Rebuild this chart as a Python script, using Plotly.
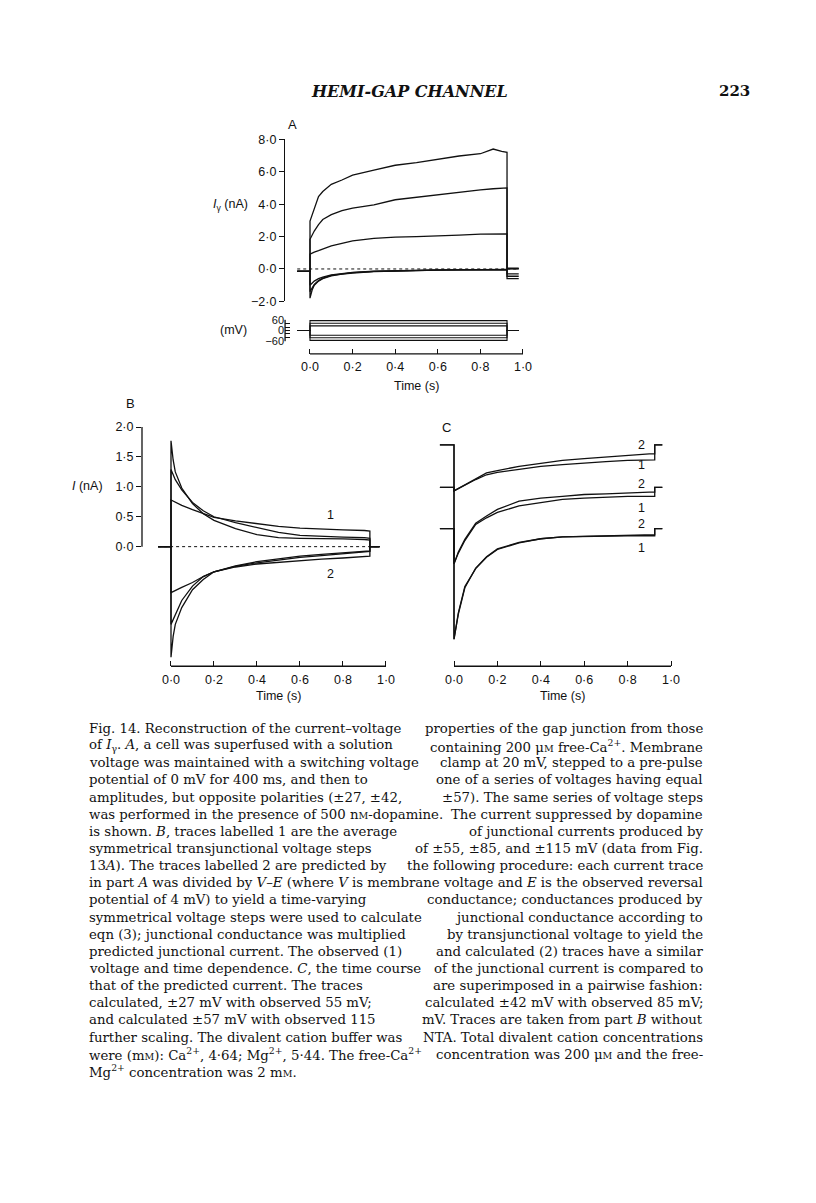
import re
import plotly.graph_objects as go

# ---------------- data ----------------
# Panel A: dopamine-sensitive current I_gamma (nA) vs time (s)
A_T = [0, 0.01, 0.02, 0.04, 0.06, 0.1, 0.15, 0.2, 0.3, 0.4, 0.5, 0.6, 0.7, 0.8, 0.86, 0.9, 0.925]
A_POS_1 = [2.95, 3.3, 3.76, 4.47, 4.78, 5.22, 5.49, 5.79, 6.1, 6.4, 6.56, 6.77, 6.97, 7.11, 7.4, 7.25, 7.2]
A_POS_2 = [1.83, 2.1, 2.34, 2.74, 3.05, 3.35, 3.6, 3.76, 3.96, 4.27, 4.43, 4.57, 4.73, 4.88, 4.95, 4.98, 5.0]
A_POS_3 = [0.91, 0.98, 1.04, 1.13, 1.22, 1.42, 1.58, 1.73, 1.89, 1.97, 2.0, 2.03, 2.09, 2.15, 2.16, 2.13, 2.17]
A_NEG_1 = [-1.8, -1.3, -1.0, -0.75, -0.6, -0.42, -0.32, -0.25, -0.16, -0.12, -0.09, -0.07, -0.06, -0.05, -0.05, -0.04, -0.04]
A_NEG_2 = [-1.4, -1.15, -0.95, -0.72, -0.57, -0.4, -0.3, -0.23, -0.15, -0.11, -0.08, -0.07, -0.06, -0.05, -0.05, -0.04, -0.04]
A_NEG_3 = [-1.0, -0.85, -0.75, -0.6, -0.5, -0.37, -0.28, -0.21, -0.14, -0.1, -0.08, -0.06, -0.05, -0.04, -0.04, -0.03, -0.03]
A_PRE_T = [-0.06, 0.0]
A_POST_T = [0.925, 0.98]
A_BASE = -0.15
A_TAILS = [0.05, 0.02, 0.0, -0.3, -0.45, -0.6]
A_STEPS_MV = [57, 42, 27, -27, -42, -57]

# Panel B: observed (1) and calculated (2) junctional currents (nA)
B_T = [0, 0.01, 0.02, 0.05, 0.1, 0.15, 0.2, 0.3, 0.4, 0.5, 0.6, 0.7, 0.8, 0.9, 0.925]
B_OBS_1 = [1.77, 1.45, 1.25, 0.98, 0.72, 0.55, 0.44, 0.3, 0.2, 0.15, 0.14, 0.14, 0.13, 0.12, 0.11]
B_OBS_2 = [1.29, 1.2, 1.12, 0.95, 0.74, 0.6, 0.5, 0.4, 0.32, 0.24, 0.19, 0.17, 0.16, 0.15, 0.14]
B_OBS_3 = [0.78, 0.76, 0.74, 0.69, 0.62, 0.55, 0.49, 0.43, 0.38, 0.34, 0.31, 0.29, 0.28, 0.27, 0.26]
B_CALC_1 = [-1.85, -1.5, -1.3, -1.02, -0.72, -0.55, -0.42, -0.32, -0.25, -0.2, -0.16, -0.13, -0.1, -0.08, -0.07]
B_CALC_2 = [-1.3, -1.22, -1.12, -0.9, -0.66, -0.5, -0.42, -0.33, -0.27, -0.22, -0.18, -0.15, -0.12, -0.09, -0.08]
B_CALC_3 = [-0.77, -0.75, -0.73, -0.68, -0.6, -0.5, -0.42, -0.34, -0.29, -0.26, -0.23, -0.21, -0.19, -0.17, -0.16]
B_PRE_T = [-0.06, 0.0]
B_POST_T = [0.925, 0.97]

# Panel C: pairs of observed (1) / calculated (2) traces, each on its own baseline (nA)
C_T = [0, 0.02, 0.05, 0.1, 0.15, 0.2, 0.3, 0.4, 0.5, 0.6, 0.7, 0.8, 0.9, 0.925]
C_OFFSETS = [0.0, -0.71, -1.40]
C_OBS = [
    [-0.77, -0.73, -0.67, -0.58, -0.50, -0.46, -0.41, -0.36, -0.33, -0.30, -0.28, -0.26, -0.25, -0.25],
    [-1.28, -1.10, -0.89, -0.62, -0.51, -0.42, -0.31, -0.26, -0.20, -0.18, -0.16, -0.15, -0.15, -0.15],
    [-1.85, -1.41, -0.97, -0.67, -0.48, -0.35, -0.24, -0.17, -0.14, -0.13, -0.12, -0.12, -0.12, -0.12],
]
C_CALC = [
    [-0.77, -0.73, -0.67, -0.56, -0.47, -0.43, -0.36, -0.31, -0.26, -0.23, -0.20, -0.17, -0.15, -0.15],
    [-1.28, -1.08, -0.87, -0.60, -0.48, -0.37, -0.23, -0.18, -0.15, -0.12, -0.11, -0.09, -0.08, -0.08],
    [-1.85, -1.43, -0.99, -0.66, -0.47, -0.34, -0.23, -0.17, -0.14, -0.13, -0.12, -0.11, -0.10, -0.10],
]
C_PRE_T = [-0.065, 0.0]
C_POST_T = [0.925, 0.96]

TIME_TICKS = [0, 0.2, 0.4, 0.6, 0.8, 1.0]
TIME_LABELS = ["0·0", "0·2", "0·4", "0·6", "0·8", "1·0"]
A_I_TICKS = [-2, 0, 2, 4, 6, 8]
A_I_LABELS = ["−2·0", "0·0", "2·0", "4·0", "6·0", "8·0"]
A_V_TICKS = [-60, 0, 60]
A_V_LABELS = ["−60", "0", "60"]
A_V_MINOR = [-40, -20, 20, 40]
B_I_TICKS = [0, 0.5, 1.0, 1.5, 2.0]
B_I_LABELS = ["0·0", "0·5", "1·0", "1·5", "2·0"]

# "§M" stands for a small-capital M (as in μM, nM, mM)
CAPTION = [
    "Fig. 14. Reconstruction of the current–voltage properties of the gap junction from those",
    "of <i>I</i><sub>γ</sub>. <i>A</i>, a cell was superfused with a solution containing 200 μ§M free-Ca<sup>2+</sup>. Membrane",
    "voltage was maintained with a switching voltage clamp at 20 mV, stepped to a pre-pulse",
    "potential of 0 mV for 400 ms, and then to one of a series of voltages having equal",
    "amplitudes, but opposite polarities (±27, ±42, ±57). The same series of voltage steps",
    "was performed in the presence of 500 n§M-dopamine. The current suppressed by dopamine",
    "is shown. <i>B</i>, traces labelled 1 are the average of junctional currents produced by",
    "symmetrical transjunctional voltage steps of ±55, ±85, and ±115 mV (data from Fig.",
    "13<i>A</i>). The traces labelled 2 are predicted by the following procedure: each current trace",
    "in part <i>A</i> was divided by <i>V</i>–<i>E</i> (where <i>V</i> is membrane voltage and <i>E</i> is the observed reversal",
    "potential of 4 mV) to yield a time-varying conductance; conductances produced by",
    "symmetrical voltage steps were used to calculate junctional conductance according to",
    "eqn (3); junctional conductance was multiplied by transjunctional voltage to yield the",
    "predicted junctional current. The observed (1) and calculated (2) traces have a similar",
    "voltage and time dependence. <i>C</i>, the time course of the junctional current is compared to",
    "that of the predicted current. The traces are superimposed in a pairwise fashion:",
    "calculated, ±27 mV with observed 55 mV; calculated ±42 mV with observed 85 mV;",
    "and calculated ±57 mV with observed 115 mV. Traces are taken from part <i>B</i> without",
    "further scaling. The divalent cation buffer was NTA. Total divalent cation concentrations",
    "were (m§M): Ca<sup>2+</sup>, 4·64; Mg<sup>2+</sup>, 5·44. The free-Ca<sup>2+</sup> concentration was 200 μ§M and the free-",
    "Mg<sup>2+</sup> concentration was 2 m§M.",
]

# ---------------- page geometry (pixels on the 816 x 1203 page) ----------------
PAGE_PAD = 8                      # browser body margin around the plot div
W, H = 816 - 2 * PAGE_PAD, 1203 - 2 * PAGE_PAD
SANS = "Liberation Sans, Arial, sans-serif"
SERIF = "DejaVu Serif, serif"
INK = "#111111"


def fx(p):
    return (p - PAGE_PAD) / W


def fy(p):
    return 1 - (p - PAGE_PAD) / H


fig = go.Figure()


def line(x, y, xa, ya, width=1.3, dash=None):
    fig.add_trace(go.Scatter(x=x, y=y, xaxis=xa, yaxis=ya, mode="lines",
                             line=dict(color=INK, width=width, dash=dash),
                             hoverinfo="skip", showlegend=False))


# Panel A current traces
for vals, tail in zip([A_POS_1, A_POS_2, A_POS_3, A_NEG_1, A_NEG_2, A_NEG_3], A_TAILS):
    line(A_PRE_T + A_T + A_POST_T, [A_BASE] * 2 + vals + [tail] * 2, "x", "y")
line([A_PRE_T[0], A_POST_T[-1]], [0, 0], "x", "y", width=1, dash="dot")
# Panel A voltage steps
for v in A_STEPS_MV:
    line(A_PRE_T + [0, A_POST_T[0]] + A_POST_T, [0, 0, v, v, 0, 0], "x", "y2", width=1.1)

# Panel B
for vals in [B_OBS_1, B_OBS_2, B_OBS_3, B_CALC_1, B_CALC_2, B_CALC_3]:
    line(B_PRE_T + B_T + B_POST_T, [0, 0] + vals + [0, 0], "x3", "y3")
line([B_PRE_T[0], B_POST_T[-1]], [0, 0], "x3", "y3", width=1, dash="dot")

# Panel C
for off, obs, calc in zip(C_OFFSETS, C_OBS, C_CALC):
    for vals in (obs, calc):
        line(C_PRE_T + C_T + C_POST_T,
             [off, off] + [off + v for v in vals] + [off, off], "x4", "y4")

# ---------------- axes ----------------
tickfont = dict(family=SANS, size=12.5, color=INK)
common = dict(showgrid=False, zeroline=False, tickcolor=INK,
              linecolor=INK, linewidth=1.3, tickwidth=1.3, fixedrange=True)

# A: t=0 at x=310 px, 213 px/s ; 0 nA at y=265 px, 16.4 px/nA
a0, asx = 310, 213
ar = [-0.117, 1.06]
fig.update_layout(
    xaxis=dict(domain=[fx(a0 + asx * ar[0]), fx(a0 + asx * ar[1])], range=ar,
               anchor="free", position=fy(351), ticks="inside", ticklen=5,
               tickvals=TIME_TICKS, ticktext=TIME_LABELS, showline=False,
               ticklabelstandoff=4, tickfont=tickfont, **common),
    yaxis=dict(domain=[fy(265 + 2 * 16.4), fy(265 - 8 * 16.4)], range=[-2, 8],
               anchor="x", ticks="outside", ticklen=5, showline=True,
               tickvals=A_I_TICKS, ticktext=A_I_LABELS, tickfont=tickfont, **common),
    yaxis2=dict(domain=[fy(327.3 + 11.4), fy(327.3 - 11.4)], range=[-65, 65],
                anchor="x", ticks="inside", ticklen=5, showline=False,
                tickvals=A_V_TICKS, ticktext=A_V_LABELS,
                minor=dict(tickvals=A_V_MINOR, ticks="inside", ticklen=5,
                           tickcolor=INK, tickwidth=1.3, showgrid=False),
                tickfont=dict(family=SANS, size=11, color=INK), **common),
)

# B: t=0 at x=171 px, 215 px/s ; 0 nA at y=546 px, 60.5 px/nA
b0, bsx = 171, 215
br = [-0.1349, 1.05]
fig.update_layout(
    xaxis3=dict(domain=[fx(b0 + bsx * br[0]), fx(b0 + bsx * br[1])], range=br,
                anchor="y3", ticks="inside", ticklen=5, showline=False,
                tickvals=TIME_TICKS, ticktext=TIME_LABELS, ticklabelstandoff=4,
                tickfont=tickfont, **common),
    yaxis3=dict(domain=[fy(546 + 2.0 * 60.5), fy(546 - 2.05 * 60.5)], range=[-2.0, 2.05],
                anchor="x3", ticks="outside", ticklen=5, showline=False,
                tickvals=B_I_TICKS, ticktext=B_I_LABELS, tickfont=tickfont, **common),
)

# C: t=0 at x=454 px, 217 px/s ; same current scale as B, top baseline at y=443 px
c0, csx = 454, 217
cr = [-0.1, 1.05]
fig.update_layout(
    xaxis4=dict(domain=[fx(c0 + csx * cr[0]), fx(c0 + csx * cr[1])], range=cr,
                anchor="y4", ticks="inside", ticklen=5, showline=False,
                tickvals=TIME_TICKS, ticktext=TIME_LABELS, ticklabelstandoff=4,
                tickfont=tickfont, **common),
    yaxis4=dict(domain=[fy(667), fy(422)], range=[(443 - 667) / 60.5, (443 - 422) / 60.5],
                anchor="x4", visible=False, fixedrange=True),
)

# axis lines drawn as range frames
ax_line = dict(type="line", line=dict(color=INK, width=1.3))
fig.add_shape(**ax_line, xref="x", yref="paper", x0=0, x1=1.0, y0=fy(351), y1=fy(351))
fig.add_shape(**ax_line, xref="x domain", yref="y2", x0=0, x1=0, y0=-62, y1=62)
fig.add_shape(**ax_line, xref="x3", yref="y3 domain", x0=0, x1=1.0, y0=0, y1=0)
fig.add_shape(**ax_line, xref="x3 domain", yref="y3", x0=0, x1=0, y0=0, y1=2.0)
fig.add_shape(**ax_line, xref="x4", yref="y4 domain", x0=0, x1=1.0, y0=0, y1=0)

# ---------------- text ----------------
ann = []
SMALL_M = "<span style='font-size:9.5px'>M</span>"


def text(s, x, y, size=12.5, family=SANS, xanchor="center", yanchor="middle", ref=("paper", "paper")):
    ann.append(dict(text=s.replace("§M", SMALL_M), x=x, y=y, xref=ref[0], yref=ref[1],
                    showarrow=False, xanchor=xanchor, yanchor=yanchor,
                    font=dict(family=family, size=size, color=INK)))


text("<b><i>HEMI-GAP CHANNEL</i></b>", fx(410), fy(85), size=16, family=SERIF)
text("<b>223</b>", fx(752), fy(85), size=15, family=SERIF, xanchor="right")

text("A", fx(292), fy(119), size=13)
text("B", fx(130), fy(401), size=13)
text("C", fx(446), fy(425), size=13)

text("<i>I</i><sub>γ</sub> (nA)", fx(250), fy(200), xanchor="right")
text("(mV)", fx(249), fy(327), xanchor="right")
text("<i>I</i> (nA)", fx(105), fy(485), xanchor="right")
text("Time (s)", fx(a0 + asx * 0.5), fy(383))
text("Time (s)", fx(b0 + bsx * 0.5), fy(697))
text("Time (s)", fx(c0 + csx * 0.5), fy(697))

# trace labels
text("1", 0.74, 0.53, ref=("x3", "y3"))
text("2", 0.74, -0.45, ref=("x3", "y3"))
for lab, v in zip(["2", "1", "2", "1", "2", "1"], [0.0, -0.33, -0.66, -1.06, -1.32, -1.72]):
    text(lab, 0.866, v, ref=("x4", "y4"))

# caption: each line split in two halves, flush left and flush right (justified look)
CAP_LEFT, CAP_RIGHT, CAP_TOP, CAP_STEP, CAP_SIZE = 87, 705, 730, 17.35, 13.3


def visible(s):
    return len(re.sub("<[^>]+>", "", s))


for i, ln in enumerate(CAPTION):
    y = fy(CAP_TOP + CAP_STEP * i)
    words = ln.split(" ")
    if i == len(CAPTION) - 1:
        text(ln, fx(CAP_LEFT), y, size=CAP_SIZE, family=SERIF, xanchor="left")
        continue
    total = visible(ln)
    acc, cut = 0, 1
    for k, w in enumerate(words):
        acc += visible(w) + 1
        if acc >= total / 2:
            cut = k + 1
            break
    text(" ".join(words[:cut]), fx(CAP_LEFT), y, size=CAP_SIZE, family=SERIF, xanchor="left")
    text(" ".join(words[cut:]), fx(CAP_RIGHT), y, size=CAP_SIZE, family=SERIF, xanchor="right")

fig.update_layout(
    width=W, height=H, autosize=False,
    margin=dict(l=0, r=0, t=0, b=0),
    paper_bgcolor="white", plot_bgcolor="white",
    annotations=ann, showlegend=False,
)

fig.write_html("out.html")
